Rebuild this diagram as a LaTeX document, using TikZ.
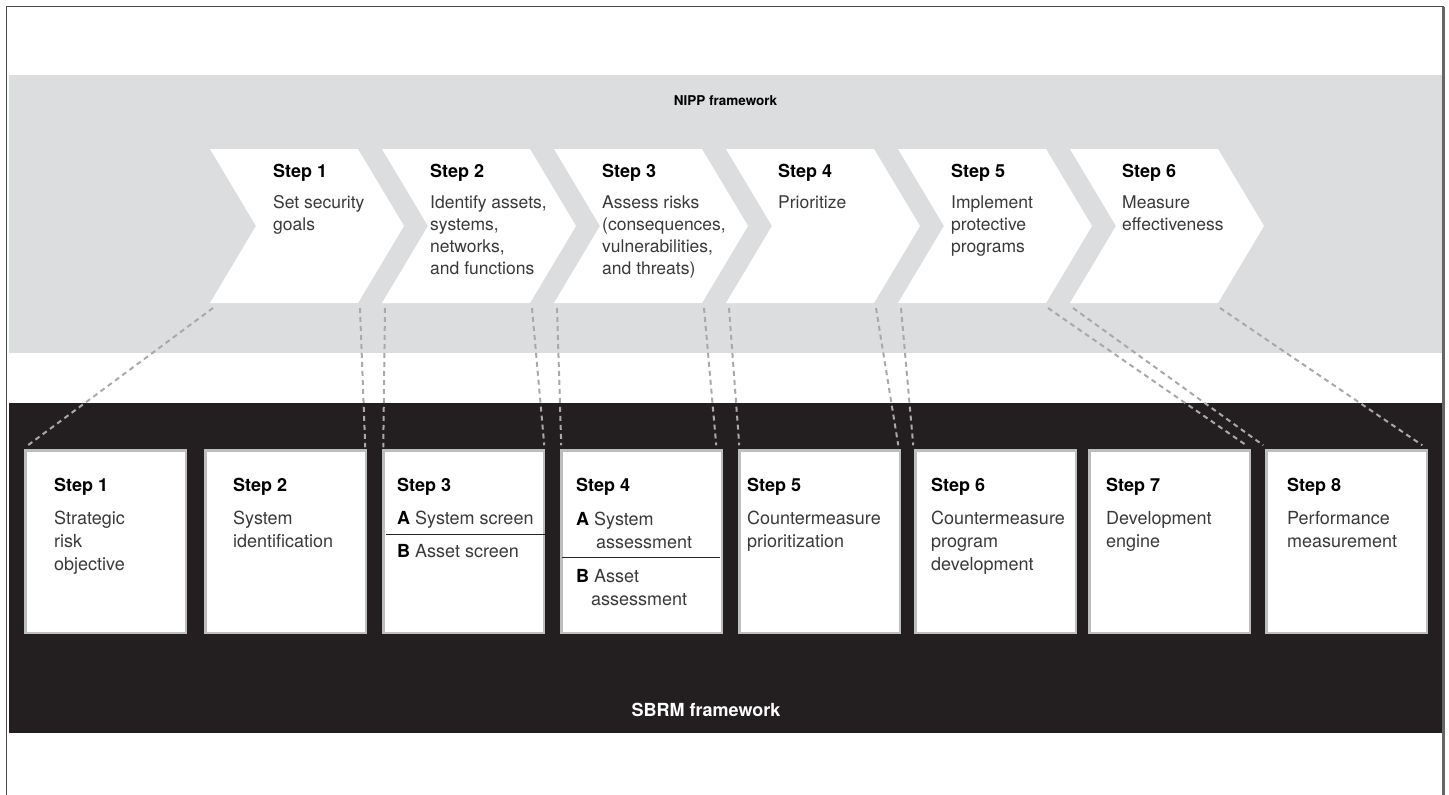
\documentclass[tikz,border=0pt]{standalone}
\usepackage{fontspec}
\setmainfont{TeX Gyre Heros}
\usetikzlibrary{calc}
\definecolor{bandgray}{HTML}{DCDDDF}
\definecolor{sbrmblack}{HTML}{231F20}
\definecolor{dashgray}{HTML}{A7A9AC}
\definecolor{boxedge}{HTML}{BDBEC0}
\definecolor{bodytext}{HTML}{3A3A3A}
\definecolor{framecol}{HTML}{4A4A4A}
\newcommand{\hd}[1]{\rule{0pt}{20pt}{\fontsize{18}{22}\selectfont\bfseries\color{black}#1}}
\newcommand{\lt}[1]{{\bfseries\color{black}#1}}
\begin{document}
\begin{tikzpicture}[x=1pt,y=-1pt,
  sbox/.style={fill=white, draw=boxedge, line width=2.5pt, minimum width=160.5pt, minimum height=182.5pt, anchor=north west, inner sep=0pt},
  link/.style={draw=dashgray, line width=2pt, dash pattern=on 5pt off 4pt},
  ctext/.style={anchor=north west, align=left, inner sep=0pt, font=\fontsize{17.5}{22}\selectfont, text=bodytext},
  btext/.style={anchor=north west, align=left, inner sep=0pt, font=\fontsize{18}{23.3}\selectfont, text=bodytext},
  title/.style={anchor=base, inner sep=0pt, font=\bfseries},
  divider/.style={draw=black!85, line width=1pt},
]
\useasboundingbox (0,0) rectangle (1449,795);
% outer frame
\draw[framecol, line width=1.5pt] (6.5,820) -- (6.5,6.5) -- (1443.5,6.5);
\draw[black!60, line width=2.5pt] (1443.5,6.5) -- (1443.5,820);
% bands
\fill[bandgray] (9,75) rectangle (1442,353);
\fill[sbrmblack] (9,403) rectangle (1442,733);
\node[title, font=\fontsize{13.5}{16}\selectfont\bfseries] (nipp) at (725.5,105) {NIPP framework};
\node[title, font=\fontsize{18}{22}\selectfont\bfseries, text=white] (sbrm) at (706,716.5) {SBRM framework};
% chevrons
\foreach \i/\x in {1/210,2/382,3/554,4/726,5/898,6/1070} {
  \fill[white] (\x,149) -- ++(148,0) -- ++(46,77) -- ++(-46,77) -- ++(-148,0) -- ++(46,-77) -- cycle;
  \coordinate (c\i bl) at (\x+3,308);
  \coordinate (c\i br) at (\x+150,308);
}
% chevron texts: header baseline at y=177
\node[ctext] (t1) at (273,157) {\hd{Step 1}\\[9.5pt]Set security\\goals};
\node[ctext] (t2) at (430,157) {\hd{Step 2}\\[9.5pt]Identify assets,\\systems,\\networks,\\and functions};
\node[ctext] (t3) at (602,157) {\hd{Step 3}\\[9.5pt]Assess risks\\(consequences,\\vulnerabilities,\\and threats)};
\node[ctext] (t4) at (778,157) {\hd{Step 4}\\[9.5pt]Prioritize};
\node[ctext] (t5) at (951,157) {\hd{Step 5}\\[9.5pt]Implement\\protective\\programs};
\node[ctext] (t6) at (1122,157) {\hd{Step 6}\\[9.5pt]Measure\\effectiveness};
% SBRM boxes
\foreach \i/\x in {1/23,2/203,3/381,4/559,5/737,6/913,7/1087,8/1264} {
  \node[sbox] (b\i) at (\x+1.25,449.25) {};
}
% box texts: header baseline at y=491
\node[btext] (s1) at (54,471) {\hd{Step 1}\\[9.7pt]Strategic\\risk\\objective};
\node[btext] (s2) at (233,471) {\hd{Step 2}\\[9.7pt]System\\identification};
\node[btext] (s3) at (397,471) {\hd{Step 3}\\[9.7pt]\lt{A} System screen\\[9.7pt]\lt{B} Asset screen};
\node[btext] (s4) at (576,471) {\hd{Step 4}\\[10.7pt]\lt{A} System\\\hspace*{20pt}assessment\\[10.7pt]\lt{B} Asset\\\hspace*{15pt}assessment};
\node[btext] (s5) at (747,471) {\hd{Step 5}\\[9.7pt]Countermeasure\\prioritization};
\node[btext] (s6) at (931,471) {\hd{Step 6}\\[9.7pt]Countermeasure\\program\\development};
\node[btext] (s7) at (1106,471) {\hd{Step 7}\\[9.7pt]Development\\engine};
\node[btext] (s8) at (1287,471) {\hd{Step 8}\\[9.7pt]Performance\\measurement};
% dividers
\draw[divider] ([xshift=4pt]b3.west |- 0,534) -- (b3.east |- 0,534);
\draw[divider] ([xshift=2pt]b4.west |- 0,557) -- ([xshift=-3pt]b4.east |- 0,557);
% dashed links
\draw[link] (c1bl) -- ([xshift=1pt,yshift=2pt]b1.north west);
\draw[link] (c1br) -- ([xshift=-2pt,yshift=2pt]b2.north east);
\draw[link] (c2bl) -- ([xshift=1pt,yshift=2pt]b3.north west);
\draw[link] (c2br) -- ([xshift=-1pt,yshift=4pt]b3.north east);
\draw[link] (c3bl) -- ([xshift=1pt,yshift=4pt]b4.north west);
\draw[link] (c3br) -- ([xshift=-7pt,yshift=4pt]b4.north east);
\draw[link] (c4bl) -- ([xshift=1pt,yshift=4pt]b5.north west);
\draw[link] (c4br) -- ([xshift=-3pt,yshift=4pt]b5.north east);
\draw[link] (c5bl) -- ([xshift=-1pt,yshift=4pt]b6.north west);
\draw[link] (c5br) -- ([xshift=-5pt,yshift=4pt]b7.north east);
\draw[link] (c6bl) -- ([xshift=-2pt,yshift=4pt]b8.north west);
\draw[link] (c6br) -- ([xshift=-6pt,yshift=4pt]b8.north east);
\end{tikzpicture}
\end{document}
